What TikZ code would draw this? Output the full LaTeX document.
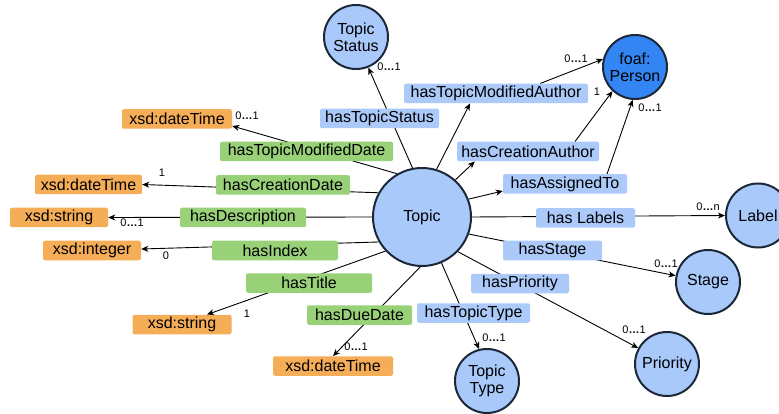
\documentclass[tikz,border=0pt]{standalone}
\usepackage{fontspec}
\setmainfont{Liberation Sans}
\usetikzlibrary{calc,arrows.meta,backgrounds}
\definecolor{cblue}{HTML}{A9C9FB}
\definecolor{lblue}{HTML}{ABC9F9}
\definecolor{pblue}{HTML}{3385F3}
\definecolor{cborder}{HTML}{1C2838}
\definecolor{corange}{HTML}{F5AD57}
\definecolor{cgreen}{HTML}{98D178}
\tikzset{
  cls/.style={circle,draw=cborder,line width=2pt,fill=cblue,minimum size=64pt,inner sep=0pt,
    align=center,font=\fontsize{16}{17}\selectfont},
  tbox/.style={rectangle,rounded corners=2pt,fill=corange,minimum height=19.5pt,inner sep=0pt,
    font=\fontsize{16}{18}\selectfont},
  glab/.style={rectangle,rounded corners=2pt,fill=cgreen,minimum height=19.5pt,inner sep=0pt,
    font=\fontsize{16}{18}\selectfont},
  blab/.style={rectangle,rounded corners=2pt,fill=lblue,minimum height=19.5pt,inner sep=0pt,
    font=\fontsize{16}{18}\selectfont},
  card/.style={inner sep=0pt,font=\fontsize{11}{12}\selectfont},
  arr/.style={line width=0.9pt,-{Stealth[length=7pt,width=6pt,inset=2pt]}}
}
\newcommand{\zo}{0{\bfseries …}1}
\begin{document}
\begin{tikzpicture}[x=1pt,y=-1pt]
\useasboundingbox (0,0) rectangle (779,414);
\clip (0,0) rectangle (779,414);
% classes
\node[cls,minimum size=98pt] (topic) at (422,217) {Topic};
\node[cls] (status) at (356,37) {Topic\\Status};
\node[cls,fill=pblue] (person) at (635,67) {foaf:\\Person};
\node[cls] (label) at (758,215.5) {Label};
\node[cls] (stage) at (708,282) {Stage};
\node[cls] (priority) at (667,364) {Priority};
\node[cls] (ttype) at (487,381) {Topic\\Type};
% datatypes
\node[tbox,minimum width=110pt] (dt1) at (177,119) {xsd:dateTime};
\node[tbox,minimum width=107pt] (dt2) at (88.5,184.5) {xsd:dateTime};
\node[tbox,minimum width=98pt] (str1) at (59,217.5) {xsd:string};
\node[tbox,minimum width=98pt] (int) at (92,250.5) {xsd:integer};
\node[tbox,minimum width=99pt] (str2) at (182,324.5) {xsd:string};
\node[tbox,minimum width=120pt] (dt3) at (333,366) {xsd:dateTime};
% green property labels
\node[glab,minimum width=173pt] (lTMD) at (306.5,151.5) {hasTopicModifiedDate};
\node[glab,minimum width=134pt] (lCD) at (283,185) {hasCreationDate};
\node[glab,minimum width=126pt] (lDesc) at (243,217.5) {hasDescription};
\node[glab,minimum width=126pt] (lIdx) at (275,250.5) {hasIndex};
\node[glab,minimum width=126pt] (lTitle) at (309,283) {hasTitle};
\node[glab,minimum width=105pt] (lDue) at (359.5,315) {hasDueDate};
% blue property labels
\node[blab,minimum width=119pt] (lTS) at (379.5,118.5) {hasTopicStatus};
\node[blab,minimum width=184pt] (lTMA) at (496,93.5) {hasTopicModifiedAuthor};
\node[blab,minimum width=142pt] (lCA) at (528,151.5) {hasCreationAuthor};
\node[blab,minimum width=124pt] (lAT) at (565,184) {hasAssignedTo};
\node[blab,minimum width=99pt] (lLab) at (585.5,218) {has Labels};
\node[blab,minimum width=99pt] (lStage) at (552.5,250.5) {hasStage};
\node[blab,minimum width=98pt] (lPrio) at (520,283.5) {hasPriority};
\node[blab,minimum width=113pt] (lTT) at (473.5,313) {hasTopicType};
% cardinalities
\node[card] (c1) at (247,116) {\zo};
\node[card] (c2) at (162,173) {1};
\node[card] (c3) at (132,223) {\zo};
\node[card] (c4) at (166,256) {0};
\node[card] (c5) at (247,314) {1};
\node[card] (c6) at (356,347) {\zo};
\node[card] (c7) at (389,67) {\zo};
\node[card] (c8) at (576,59) {\zo};
\node[card] (c9) at (597,92) {1};
\node[card] (c10) at (650,108) {\zo};
\node[card] (c11) at (708,207) {0{\bfseries …}n};
\node[card] (c12) at (666,264) {\zo};
\node[card] (c13) at (494,338) {\zo};
\node[card] (c14) at (634,330) {\zo};
% connectors
\begin{pgfonlayer}{background}
\draw[arr] (topic.120) -- ($(dt1.east)+(0,7)$);
\draw[arr] (topic.151) -- (dt2.east);
\draw[arr] (topic.180) -- (str1.east);
\draw[arr] (topic.210) -- ($(int.east)+(0,-1.5)$);
\draw[arr] (topic.223) -- ($(str2.north)+(25,0)$);
\draw[arr] (topic.268) -- (dt3.north);
\draw[arr] (topic.101) -- (status.292);
\draw[arr] (topic.73) -- ($(lTMA.south)+(-26,0)$);
\draw[arr] ($(lTMA.north)+(44,0)$) -- (person.166);
\draw[arr] (topic.48) -- ($(lCA.south west)+(18,0)$);
\draw[arr] ($(lCA.north)+(47,0)$) -- (person.227);
\draw[arr] (topic.21) -- ($(lAT.west)+(0,7)$);
\draw[arr] ($(lAT.north)+(42,0)$) -- (person.266);
\draw[arr] (topic.0) -- (label.180);
\draw[arr] (topic.340) -- (stage.169);
\draw[arr] (topic.316) -- (priority.151);
\draw[arr] (topic.293) -- (ttype.104);
\end{pgfonlayer}
\end{tikzpicture}
\end{document}
